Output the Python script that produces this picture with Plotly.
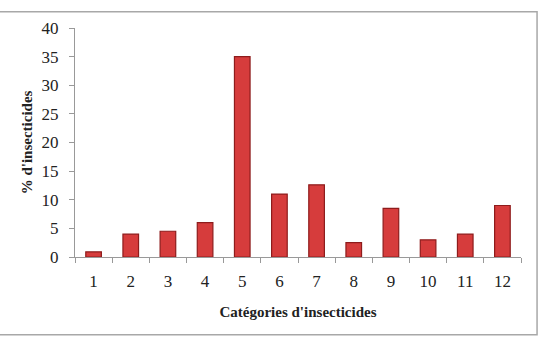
import plotly.graph_objects as go

categories = ["1", "2", "3", "4", "5", "6", "7", "8", "9", "10", "11", "12"]
values = [0.9, 4, 4.5, 6, 35, 11, 12.6, 2.5, 8.5, 3, 4, 9]
y_ticks = [0, 5, 10, 15, 20, 25, 30, 35, 40]

fig = go.Figure()
fig.add_trace(go.Bar(
    x=categories, y=values,
    marker=dict(color="#D63C3C", line=dict(color="#8E1C1C", width=1.2)),
    width=0.42,
))

font = "Liberation Serif, Times New Roman, serif"
fig.update_layout(
    width=548, height=339,
    margin=dict(l=75, r=27, t=28, b=82),
    paper_bgcolor="white", plot_bgcolor="white",
    showlegend=False,
    font=dict(family=font, size=17, color="#222"),
    xaxis=dict(
        type="category", tickson="boundaries", ticks="outside", ticklen=5,
        tickcolor="#999", showline=True, linecolor="#999", linewidth=1,
        showgrid=False, tickfont=dict(size=17, family=font), ticklabelstandoff=9,
        title=dict(text="<b>Catégories d'insecticides</b>", font=dict(size=15, family=font), standoff=16),
    ),
    yaxis=dict(
        range=[0, 40], tickvals=y_ticks, ticks="outside", ticklen=5,
        tickcolor="#999", showline=True, linecolor="#999", linewidth=1,
        showgrid=False, zeroline=False, tickfont=dict(size=17, family=font), ticklabelstandoff=7,
        title=dict(text="<b>% d'insecticides</b>", font=dict(size=15, family=font), standoff=5),
    ),
    shapes=[dict(type="rect", xref="paper", yref="paper",
                 x0=-0.175, x1=1.036, y0=-0.339, y1=1.071,
                 line=dict(color="#A8A8A8", width=1.5), layer="below")],
)

fig.write_html("out.html")
